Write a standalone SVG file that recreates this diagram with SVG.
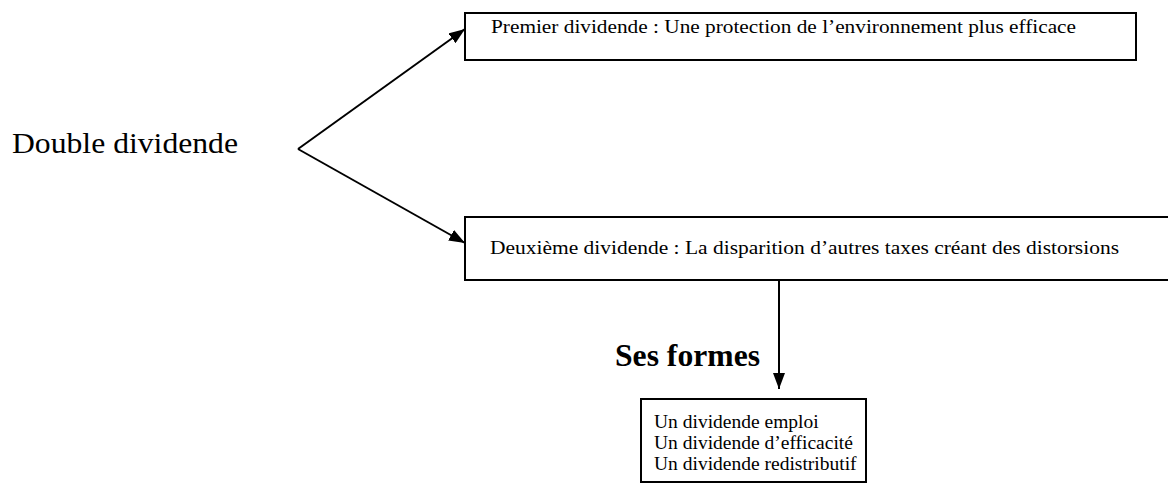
<svg xmlns="http://www.w3.org/2000/svg" width="1168" height="483" viewBox="0 0 1168 483">
<defs>
<marker id="ah" viewBox="0 0 16 12" refX="16" refY="6" markerWidth="16" markerHeight="12" markerUnits="userSpaceOnUse" orient="auto">
<path d="M0,0 L16,6 L0,12 Z" fill="#000"/>
</marker>
<style>
.box{fill:#fff;stroke:#000;stroke-width:2}
.t{font-family:"Liberation Serif","Times New Roman",serif;fill:#000}
.ln{stroke:#000;stroke-width:2;fill:none}
</style>
</defs>
<rect width="1168" height="483" fill="#fff"/>
<g id="root">
<text class="t" x="12" y="153" font-size="29" textLength="226" lengthAdjust="spacingAndGlyphs">Double dividende</text>
</g>
<g id="n1">
<rect class="box" x="465" y="13" width="671" height="47"/>
<text class="t" x="491" y="33" font-size="19" textLength="585" lengthAdjust="spacingAndGlyphs">Premier dividende : Une protection de l’environnement plus efficace</text>
</g>
<g id="n2">
<rect class="box" x="465" y="217" width="710" height="63"/>
<text class="t" x="490" y="254" font-size="19" textLength="629" lengthAdjust="spacingAndGlyphs">Deuxième dividende : La disparition d’autres taxes  créant des distorsions</text>
</g>
<g id="lbl">
<text class="t" x="615" y="366" font-size="31" font-weight="bold" textLength="145" lengthAdjust="spacingAndGlyphs">Ses formes</text>
</g>
<g id="n3">
<rect class="box" x="641" y="399" width="225" height="83"/>
<text class="t" x="654" y="428" font-size="19.5">Un dividende emploi</text>
<text class="t" x="654" y="449" font-size="19.5">Un dividende d’efficacité</text>
<text class="t" x="654" y="470" font-size="19.5">Un dividende redistributif</text>
</g>
<g id="connectors">
<line class="ln" x1="298" y1="149" x2="465" y2="29" marker-end="url(#ah)"/>
<line class="ln" x1="298" y1="149" x2="465" y2="243" marker-end="url(#ah)"/>
<line class="ln" x1="779" y1="280" x2="779" y2="389" marker-end="url(#ah)"/>
</g>
</svg>
